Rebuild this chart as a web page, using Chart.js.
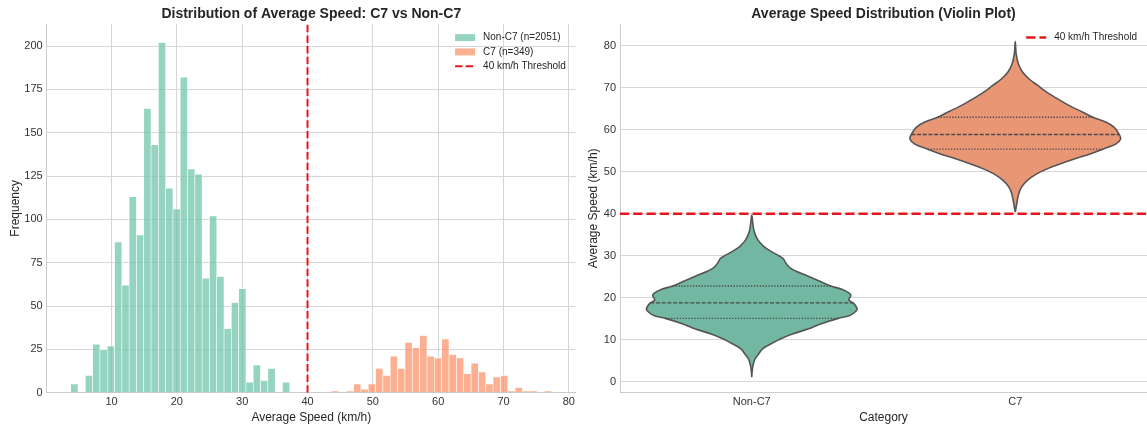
<!DOCTYPE html>
<html>
<head>
<meta charset="utf-8">
<title>Average Speed: C7 vs Non-C7</title>
<script src="https://cdn.jsdelivr.net/npm/chart.js@4.4.1/dist/chart.umd.min.js"></script>
<style>
  html, body { margin: 0; padding: 0; background: #ffffff; }
  #wrap { position: relative; width: 1147px; height: 426px; overflow: hidden; }
  canvas { position: absolute; top: 0; }
  #hist { left: 0; }
  #violin { left: 578px; }
</style>
</head>
<body>
<div id="wrap">
  <canvas id="hist" width="578" height="426"></canvas>
  <canvas id="violin" width="569" height="426"></canvas>
</div>
<script>
// ---- Histogram data: 30 equal-width bins per group over each group's range ----
const nonC7Range = [3.76, 37.28];
const nonC7Counts = [5, 0, 10, 28, 25, 27, 87, 62, 113, 91, 164, 143, 202, 118, 106,
                     182, 129, 126, 66, 102, 67, 37, 52, 60, 6, 16, 7, 14, 0, 6];
const c7Range = [43.67, 77.4];
const c7Counts = [1, 0, 1, 5, 2, 5, 14, 10, 21, 14, 29, 26, 33, 21, 20,
                  31, 22, 20, 11, 17, 12, 5, 9, 10, 1, 3, 1, 1, 0, 1];
const groupLabels = ['Non-C7 (n=2051)', 'C7 (n=349)'];
const thresholdSpeed = 40;
const thresholdLabel = '40 km/h Threshold';
const histXLimits = [0.08, 81.08];
const histYLimits = [0, 212.7];
const histXTicks = [10, 20, 30, 40, 50, 60, 70, 80];
const histYTicks = [0, 25, 50, 75, 100, 125, 150, 175, 200];

// ---- Violin data: speed levels with relative density width (1 = widest) ----
const categories = ['Non-C7', 'C7'];
const nonC7ViolinSpeed = [1.1, 2.3, 3.9, 5.4, 6.6, 7.8, 9.0, 10.2, 11.4, 12.6,
                          13.7, 15.1, 15.7, 16.5, 17.3, 18.1, 18.8, 19.5, 20.5, 21.1,
                          22.0, 22.8, 24.0, 25.2, 26.4, 27.2, 28.4, 29.3, 29.9, 31.1,
                          32.3, 33.9, 35.9, 37.8, 39.7];
const nonC7ViolinWidth = [0, 0.003, 0.012, 0.03, 0.065, 0.10, 0.18, 0.27, 0.385, 0.54,
                          0.645, 0.82, 0.925, 0.975, 1.0, 0.985, 0.962, 0.92, 0.94, 0.925,
                          0.86, 0.75, 0.64, 0.53, 0.415, 0.36, 0.32, 0.30, 0.265, 0.18,
                          0.11, 0.055, 0.022, 0.01, 0];
const c7ViolinSpeed = [40.4, 42.4, 44.8, 46.4, 47.9, 49.5, 50.7, 51.9, 53.1, 54.3,
                       55.4, 56.6, 57.8, 58.9, 60.6, 61.8, 63.0, 64.2, 65.7, 67.3,
                       68.9, 70.5, 72.1, 73.7, 75.6, 78.0, 81.0];
const c7ViolinWidth = [0, 0.014, 0.033, 0.061, 0.113, 0.203, 0.302, 0.429, 0.566, 0.717,
                       0.83, 0.953, 1.0, 0.986, 0.939, 0.863, 0.736, 0.642, 0.519, 0.406,
                       0.302, 0.217, 0.132, 0.071, 0.031, 0.009, 0];
// quartiles: Q1, median, Q3 and the violin width at each
const nonC7Quartiles = [15.1, 18.8, 22.8];
const nonC7QuartileWidth = [0.82, 0.962, 0.75];
const c7Quartiles = [55.4, 58.9, 63.0];
const c7QuartileWidth = [0.83, 0.986, 0.736];
const violinXLimits = [-0.5, 1.5];
const violinYLimits = [-2.6, 85.2];
const violinYTicks = [0, 10, 20, 30, 40, 50, 60, 70, 80];

// ---- Styling ----
const FONT = "'Liberation Sans', Arial, Helvetica, sans-serif";
const TEXT_DARK = '#262626';
const TICK_TEXT = '#333333';
const GRID = '#d6d6d6';
const SPINE = '#cccccc';
const RED = '#e8161b';
const GREEN_BAR = 'rgba(102, 194, 165, 0.7)';
const ORANGE_BAR = 'rgba(252, 141, 98, 0.7)';
const GREEN_VIOLIN = '#72b7a1';
const ORANGE_VIOLIN = '#e99675';
const VIOLIN_EDGE = '#555555';
const QUARTILE_LINE = '#4a4a4a';
const VIOLIN_HALF = 0.4;      // half of the violin width at peak density, in category units

Chart.defaults.font.family = FONT;
Chart.defaults.color = TICK_TEXT;

// Legend drawn inside the plotting area, upper right
const insideLegend = {
  id: 'insideLegend',
  afterDraw(chart, args, opts) {
    const ctx = chart.ctx;
    const area = chart.chartArea;
    const items = chart.data.datasets.filter(d => d.legend);
    if (!items.length) return;
    ctx.save();
    ctx.font = opts.fontSize + 'px ' + FONT;
    const textW = Math.max(...items.map(d => ctx.measureText(d.label).width));
    const textX = area.right - opts.rightInset - textW;
    const handleX = textX - opts.textGap - opts.handleLength;
    items.forEach((d, i) => {
      const y = area.top + opts.firstRow + i * opts.rowPitch;
      if (d.type === 'line' || d.showLine) {
        ctx.strokeStyle = d.borderColor;
        ctx.lineWidth = d.borderWidth;
        ctx.setLineDash(d.borderDash || []);
        ctx.beginPath();
        ctx.moveTo(handleX, y);
        ctx.lineTo(handleX + opts.handleLength, y);
        ctx.stroke();
        ctx.setLineDash([]);
      } else {
        ctx.fillStyle = d.backgroundColor;
        ctx.fillRect(handleX, y - opts.boxHeight / 2, opts.handleLength, opts.boxHeight);
      }
      ctx.fillStyle = opts.color;
      ctx.textAlign = 'left';
      ctx.textBaseline = 'middle';
      ctx.fillText(d.label, textX, y);
    });
    ctx.restore();
  }
};

const legendOpts = {
  fontSize: 10, color: TEXT_DARK, rightInset: 10, textGap: 8,
  handleLength: 20, boxHeight: 7, firstRow: 13.6, rowPitch: 14.3
};

function fixedTicks(values) {
  return scale => { scale.ticks = values.map(v => ({ value: v })); };
}

function binPoints(range, counts) {
  const w = (range[1] - range[0]) / counts.length;
  return counts.map((c, i) => ({ x: range[0] + w * (i + 0.5), y: c }));
}

const tickFont = { size: 11 };
const axisTitleFont = { size: 12 };

// ---------------- Left: histogram ----------------
new Chart(document.getElementById('hist'), {
  type: 'bar',
  data: {
    datasets: [
      {
        label: groupLabels[0], legend: true,
        data: binPoints(nonC7Range, nonC7Counts),
        backgroundColor: GREEN_BAR, borderColor: '#ffffff', borderWidth: 0.6,
        order: 2
      },
      {
        label: groupLabels[1], legend: true,
        data: binPoints(c7Range, c7Counts),
        backgroundColor: ORANGE_BAR, borderColor: '#ffffff', borderWidth: 0.6,
        order: 2
      },
      {
        type: 'line', label: thresholdLabel, legend: true,
        data: [{ x: thresholdSpeed, y: histYLimits[0] }, { x: thresholdSpeed, y: histYLimits[1] }],
        borderColor: RED, borderWidth: 2, borderDash: [7.4, 3.2],
        pointRadius: 0, fill: false, order: 0
      }
    ]
  },
  options: {
    responsive: false,
    animation: false,
    devicePixelRatio: 1,
    events: [],
    layout: { autoPadding: false, padding: { left: 0, right: 578 - 575.9, top: 0, bottom: 0 } },
    datasets: {
      bar: { grouped: false, barPercentage: 1, categoryPercentage: 1, borderSkipped: 'start' }
    },
    scales: {
      x: {
        type: 'linear', min: histXLimits[0], max: histXLimits[1], offset: false,
        afterBuildTicks: fixedTicks(histXTicks),
        afterFit: s => { s.height = 426 - 392.7; },
        grid: { color: GRID, lineWidth: 1, drawTicks: false, offset: false },
        border: { display: true, color: SPINE, width: 1 },
        ticks: { padding: 2.5, font: tickFont, color: TICK_TEXT, maxRotation: 0, autoSkip: false },
        title: { display: true, text: 'Average Speed (km/h)', font: axisTitleFont, color: TEXT_DARK,
                 padding: { top: 0, bottom: 1.5 } }
      },
      y: {
        type: 'linear', min: histYLimits[0], max: histYLimits[1],
        afterBuildTicks: fixedTicks(histYTicks),
        afterFit: s => { s.width = 46.7; },
        grid: { color: GRID, lineWidth: 1, drawTicks: false },
        border: { display: true, color: SPINE, width: 1 },
        ticks: { padding: 4, font: tickFont, color: TICK_TEXT, autoSkip: false },
        title: { display: true, text: 'Frequency', font: axisTitleFont, color: TEXT_DARK,
                 padding: { top: 8, bottom: 0 } }
      }
    },
    plugins: {
      legend: { display: false },
      tooltip: { enabled: false },
      title: {
        display: true, fullSize: false,
        text: 'Distribution of Average Speed: C7 vs Non-C7',
        font: { size: 14, weight: 'bold', lineHeight: 1.2 }, color: TEXT_DARK,
        padding: { top: 6.2, bottom: 1 }
      },
      insideLegend: legendOpts
    }
  },
  plugins: [insideLegend]
});

// ---------------- Right: violin plot ----------------
function violinOutline(center, speeds, widths) {
  const right = speeds.map((s, i) => ({ x: center + widths[i] * VIOLIN_HALF, y: s }));
  const left = speeds.map((s, i) => ({ x: center - widths[i] * VIOLIN_HALF, y: s })).reverse();
  return right.concat(left.slice(1));
}

function quartileLines(center, levels, widths) {
  const dashes = [[1.3, 1.6], [4, 1.7], [1.3, 1.6]];
  return levels.map((q, i) => ({
    data: [{ x: center - widths[i] * VIOLIN_HALF, y: q }, { x: center + widths[i] * VIOLIN_HALF, y: q }],
    showLine: true, borderColor: QUARTILE_LINE, borderWidth: 1.4, borderDash: dashes[i],
    pointRadius: 0, fill: false, order: 1
  }));
}

const violinSets = [
  {
    label: categories[0],
    data: violinOutline(0, nonC7ViolinSpeed, nonC7ViolinWidth),
    showLine: true, fill: 'shape', backgroundColor: GREEN_VIOLIN,
    borderColor: VIOLIN_EDGE, borderWidth: 1.6, tension: 0.35, pointRadius: 0, order: 2
  },
  {
    label: categories[1],
    data: violinOutline(1, c7ViolinSpeed, c7ViolinWidth),
    showLine: true, fill: 'shape', backgroundColor: ORANGE_VIOLIN,
    borderColor: VIOLIN_EDGE, borderWidth: 1.6, tension: 0.35, pointRadius: 0, order: 2
  },
  ...quartileLines(0, nonC7Quartiles, nonC7QuartileWidth),
  ...quartileLines(1, c7Quartiles, c7QuartileWidth),
  {
    label: thresholdLabel, legend: true,
    data: [{ x: violinXLimits[0], y: thresholdSpeed }, { x: violinXLimits[1], y: thresholdSpeed }],
    showLine: true, borderColor: RED, borderWidth: 2.5, borderDash: [9.25, 4],
    pointRadius: 0, fill: false, order: 0
  }
];

new Chart(document.getElementById('violin'), {
  type: 'scatter',
  data: { datasets: violinSets },
  options: {
    responsive: false,
    animation: false,
    devicePixelRatio: 1,
    events: [],
    layout: { autoPadding: false, padding: { left: 0, right: 0, top: 0, bottom: 0 } },
    scales: {
      x: {
        type: 'linear', min: violinXLimits[0], max: violinXLimits[1], offset: false,
        afterBuildTicks: fixedTicks([0, 1]),
        afterFit: s => { s.height = 426 - 392.7; },
        grid: { display: false, drawTicks: false },
        border: { display: true, color: SPINE, width: 1 },
        ticks: { padding: 2.5, font: tickFont, color: TICK_TEXT, maxRotation: 0, autoSkip: false,
                 callback: v => categories[v] },
        title: { display: true, text: 'Category', font: axisTitleFont, color: TEXT_DARK,
                 padding: { top: 0, bottom: 1.5 } }
      },
      y: {
        type: 'linear', min: violinYLimits[0], max: violinYLimits[1],
        afterBuildTicks: fixedTicks(violinYTicks),
        afterFit: s => { s.width = 42; },
        grid: { color: GRID, lineWidth: 1, drawTicks: false },
        border: { display: true, color: SPINE, width: 1 },
        ticks: { padding: 4, font: tickFont, color: TICK_TEXT, autoSkip: false },
        title: { display: true, text: 'Average Speed (km/h)', font: axisTitleFont, color: TEXT_DARK,
                 padding: { top: 8, bottom: 0 } }
      }
    },
    plugins: {
      legend: { display: false },
      tooltip: { enabled: false },
      title: {
        display: true, fullSize: false,
        text: 'Average Speed Distribution (Violin Plot)',
        font: { size: 14, weight: 'bold', lineHeight: 1.2 }, color: TEXT_DARK,
        padding: { top: 6.2, bottom: 1 }
      },
      insideLegend: legendOpts
    }
  },
  plugins: [insideLegend]
});
</script>
</body>
</html>
